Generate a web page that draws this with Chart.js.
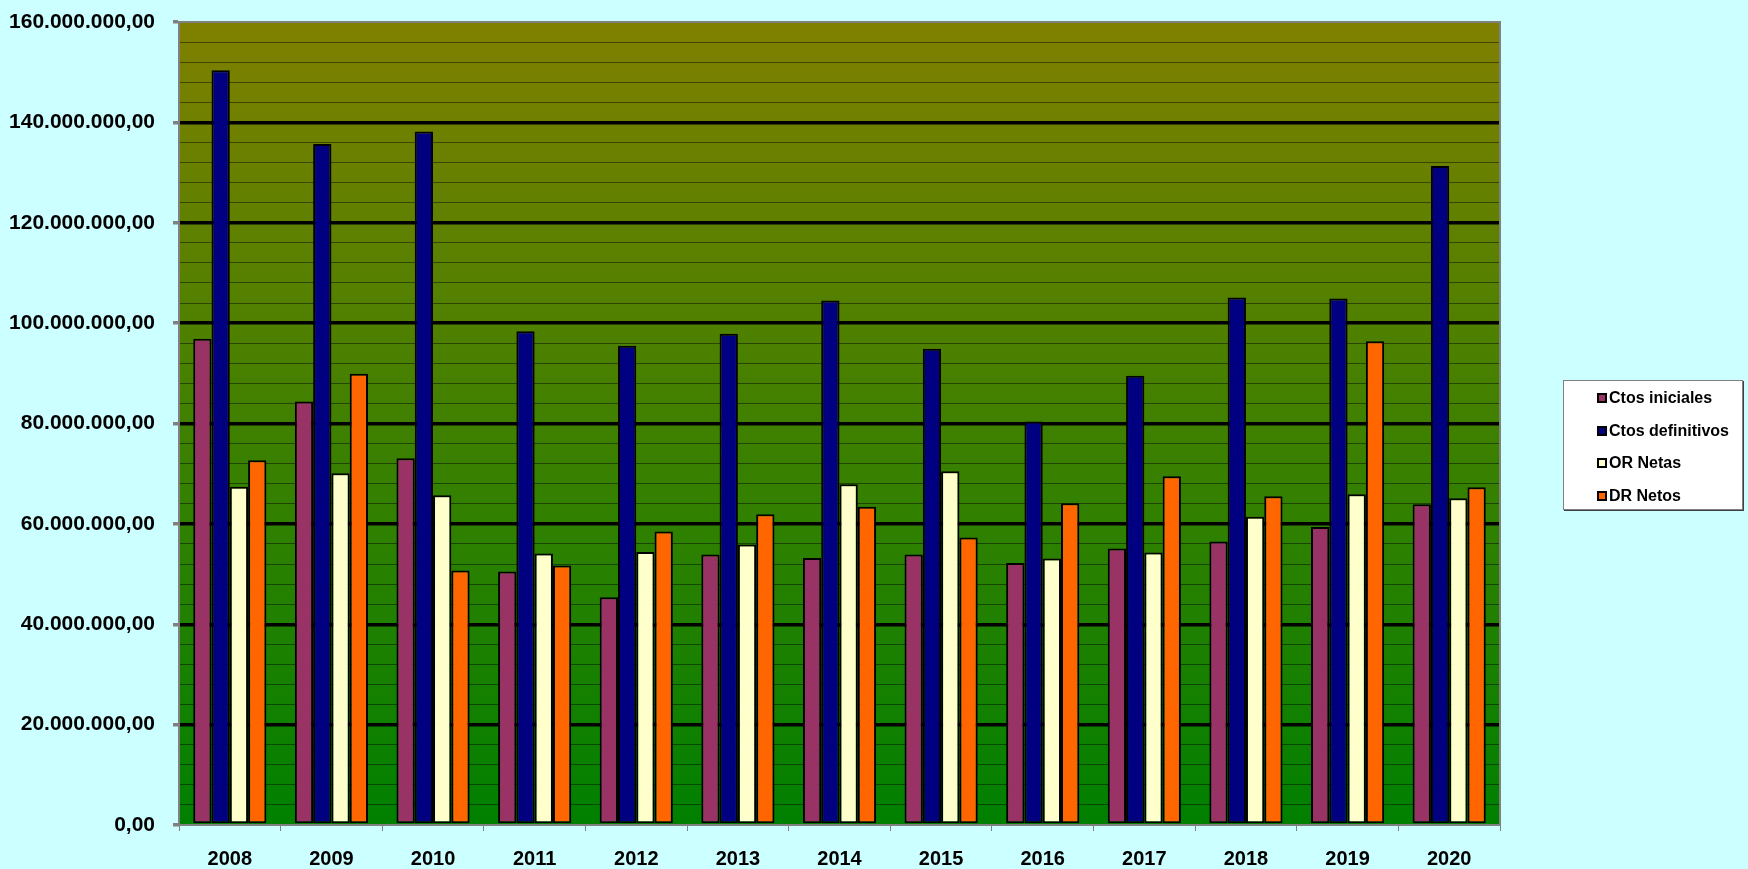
<!DOCTYPE html>
<html>
<head>
<meta charset="utf-8">
<script src="https://cdn.jsdelivr.net/npm/chart.js@4.4.1/dist/chart.umd.min.js"></script>
<style>
  html, body { margin: 0; padding: 0; background: #CCFFFF; }
  #wrap { position: relative; width: 1748px; height: 869px; }
  #c { position: absolute; left: 0; top: 0; }
  #legend {
    position: absolute; left: 1563px; top: 380px; width: 180px; height: 130px;
    background: #FFFFFF; border: 1px solid #808080; box-sizing: border-box;
    box-shadow: 1px 1px 0 #404040;
    font-family: "Liberation Sans", Arial, sans-serif; font-weight: bold; font-size: 16px; color: #000;
  }
  .item { position: absolute; left: 33px; height: 20px; line-height: 20px; white-space: nowrap; }
  .sw { display: inline-block; width: 6px; height: 6px; border: 2px solid #000; vertical-align: middle; margin-right: 2px; position: relative; top: -1px; }
</style>
</head>
<body>
<div id="wrap">
  <canvas id="c" width="1748" height="869"></canvas>
  <div id="legend"></div>
</div>
<script>
const years = ['2008','2009','2010','2011','2012','2013','2014','2015','2016','2017','2018','2019','2020'];
const seriesNames = ['Ctos iniciales', 'Ctos definitivos', 'OR Netas', 'DR Netos'];
const ctosIniciales   = [96.9, 84.4, 73.1, 50.5, 45.4, 53.9, 53.2, 53.9, 52.2, 55.1, 56.5, 59.4, 63.9].map(v => v * 1e6);
const ctosDefinitivos = [150.4, 135.7, 138.2, 98.4, 95.5, 97.9, 104.5, 94.9, 80.4, 89.5, 105.1, 104.9, 131.3].map(v => v * 1e6);
const orNetas         = [67.4, 70.1, 65.7, 54.1, 54.4, 55.9, 67.9, 70.5, 53.1, 54.3, 61.4, 65.9, 65.1].map(v => v * 1e6);
const drNetos         = [72.7, 89.9, 50.7, 51.7, 58.5, 61.9, 63.4, 57.3, 64.1, 69.5, 65.5, 96.4, 67.3].map(v => v * 1e6);
const yMin = 0, yMax = 160000000, yMinorStep = 4000000, yMajorStep = 20000000;
const colors = ['#993366', '#000080', '#FFFFCC', '#FF6600'];

function fmt(v) {
  const s = Math.round(v).toString();
  return s.replace(/\B(?=(\d{3})+(?!\d))/g, '.') + ',00';
}

const FONT = '"Liberation Sans", Arial, sans-serif';

const bgPlugin = {
  id: 'bgPlugin',
  beforeDraw(chart) {
    const { ctx, chartArea: a } = chart;
    const g = ctx.createLinearGradient(0, a.top, 0, a.bottom);
    g.addColorStop(0, '#808000');
    g.addColorStop(1, '#008000');
    ctx.save();
    ctx.fillStyle = g;
    ctx.fillRect(a.left, a.top, a.right - a.left, a.bottom - a.top);
    ctx.restore();
  },
  afterDraw(chart) {
    const { ctx, chartArea: a } = chart;
    ctx.save();
    ctx.strokeStyle = '#808080';
    ctx.lineWidth = 2;
    ctx.beginPath();
    ctx.moveTo(a.left, a.bottom);
    ctx.lineTo(a.left, a.top);
    ctx.lineTo(a.right, a.top);
    ctx.lineTo(a.right, a.bottom);
    ctx.stroke();
    ctx.restore();
  }
};

const datasets = [ctosIniciales, ctosDefinitivos, orNetas, drNetos].map((d, i) => ({
  label: seriesNames[i],
  data: d,
  backgroundColor: colors[i],
  borderColor: '#000000',
  borderWidth: 2,
  borderSkipped: false,
  barPercentage: 1.0,
  categoryPercentage: 0.72
}));

const chart = new Chart(document.getElementById('c'), {
  type: 'bar',
  data: { labels: years, datasets },
  plugins: [bgPlugin],
  options: {
    responsive: false,
    animation: false,
    layout: { padding: { top: 22, right: 248, left: 0, bottom: 0 } },
    plugins: { legend: { display: false }, tooltip: { enabled: false } },
    scales: {
      x: {
        offset: true,
        grid: { display: true, offset: true, drawOnChartArea: false, drawTicks: true, tickLength: 6, color: '#808080', lineWidth: 1 },
        border: { display: true, color: '#808080', width: 2 },
        ticks: { color: '#000', font: { family: FONT, size: 20, weight: 'bold' }, padding: 16, maxRotation: 0, autoSkip: false },
        afterFit(scale) { scale.height = 44; scale.paddingLeft = 0; scale.paddingRight = 0; }
      },
      y: {
        min: yMin, max: yMax,
        grid: {
          drawTicks: true, tickLength: 6,
          color(ctx) {
            const v = ctx.tick ? ctx.tick.value : 0;
            if (v === yMax || v === yMin) return 'rgba(0,0,0,0)';
            return (v % yMajorStep === 0) ? '#000000' : 'rgba(0,0,0,0.45)';
          },
          lineWidth(ctx) {
            const v = ctx.tick ? ctx.tick.value : 0;
            return (v % yMajorStep === 0) ? 3.5 : 1;
          },
          tickColor(ctx) {
            const v = ctx.tick ? ctx.tick.value : 0;
            return (v % yMajorStep === 0) ? '#808080' : 'rgba(0,0,0,0)';
          }
        },
        border: { display: true, color: '#808080', width: 2 },
        ticks: {
          stepSize: yMinorStep, autoSkip: false, padding: 18,
          color: '#000', font: { family: FONT, size: 21, weight: 'bold' },
          callback(v) { return (v % yMajorStep === 0) ? fmt(v) : ''; }
        },
        afterFit(scale) { scale.width = 179; scale.paddingTop = 0; scale.paddingBottom = 0; }
      }
    }
  }
});

// HTML legend built from the datasets
const leg = document.getElementById('legend');
const rowCenters = [17, 50, 82, 115];
chart.data.datasets.forEach((ds, i) => {
  const it = document.createElement('div');
  it.className = 'item';
  it.style.top = (rowCenters[i] - 10) + 'px';
  const sw = document.createElement('span');
  sw.className = 'sw';
  sw.style.background = ds.backgroundColor;
  it.appendChild(sw);
  it.appendChild(document.createTextNode(ds.label));
  leg.appendChild(it);
});
</script>
</body>
</html>
